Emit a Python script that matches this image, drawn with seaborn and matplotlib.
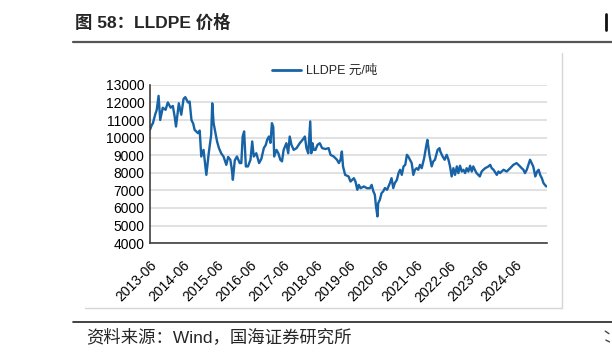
import pandas as pd
import matplotlib
matplotlib.use("Agg")
import matplotlib.pyplot as plt
import matplotlib.dates as mdates
from matplotlib.lines import Line2D
import seaborn as sns

# LLDPE price (元/吨)
dates = [
    "2013-06-01", "2013-06-20", "2013-07-04", "2013-07-28", "2013-08-15", "2013-09-04",
    "2013-09-22", "2013-10-20", "2013-11-20", "2013-12-15", "2014-01-15", "2014-02-08",
    "2014-02-28", "2014-03-15", "2014-04-15", "2014-05-12", "2014-06-06", "2014-06-25",
    "2014-07-25", "2014-08-12", "2014-09-01", "2014-09-20", "2014-10-06", "2014-11-12",
    "2014-12-01", "2014-12-18", "2015-01-12", "2015-02-12", "2015-03-10", "2015-04-06",
    "2015-04-18", "2015-05-03", "2015-05-25", "2015-06-10", "2015-07-01", "2015-07-25",
    "2015-08-20", "2015-09-20", "2015-10-10", "2015-11-03", "2015-11-18", "2015-12-01",
    "2015-12-22", "2016-01-15", "2016-02-15", "2016-03-03", "2016-03-18", "2016-04-03",
    "2016-04-22", "2016-05-15", "2016-06-12", "2016-07-01", "2016-07-18", "2016-08-15",
    "2016-09-15", "2016-10-10", "2016-11-06", "2016-11-28", "2016-12-12", "2017-01-01",
    "2017-01-18", "2017-02-03", "2017-02-18", "2017-02-28", "2017-03-25", "2017-04-15",
    "2017-05-06", "2017-05-25", "2017-06-12", "2017-07-12", "2017-08-01", "2017-08-18",
    "2017-09-06", "2017-10-01", "2017-11-01", "2017-12-06", "2018-01-06", "2018-02-01",
    "2018-02-18", "2018-03-10", "2018-04-01", "2018-04-12", "2018-04-25", "2018-05-10",
    "2018-05-28", "2018-06-20", "2018-07-15", "2018-08-10", "2018-09-15", "2018-10-20",
    "2018-11-10", "2018-12-15", "2019-01-20", "2019-02-10", "2019-02-28", "2019-03-15",
    "2019-03-28", "2019-04-20", "2019-05-28", "2019-06-18", "2019-07-25", "2019-08-12",
    "2019-09-01", "2019-09-18", "2019-10-06", "2019-11-12", "2019-12-18", "2020-01-18",
    "2020-02-06", "2020-02-25", "2020-03-12", "2020-03-25", "2020-04-10", "2020-04-18",
    "2020-05-06", "2020-05-25", "2020-06-12", "2020-07-01", "2020-07-25", "2020-08-25",
    "2020-09-12", "2020-10-01", "2020-10-18", "2020-11-10", "2020-11-28", "2020-12-15",
    "2021-01-03", "2021-01-22", "2021-02-10", "2021-02-28", "2021-03-15", "2021-04-03",
    "2021-04-22", "2021-05-10", "2021-05-28", "2021-06-15", "2021-07-03", "2021-07-22",
    "2021-08-10", "2021-09-06", "2021-09-28", "2021-10-12", "2021-11-03", "2021-11-28",
    "2021-12-15", "2022-01-03", "2022-02-01", "2022-02-22", "2022-03-03", "2022-03-28",
    "2022-04-20", "2022-05-12", "2022-06-01", "2022-06-18", "2022-07-06", "2022-07-25",
    "2022-08-12", "2022-09-01", "2022-09-18", "2022-10-06", "2022-10-25", "2022-11-12",
    "2022-12-01", "2022-12-18", "2023-01-06", "2023-01-25", "2023-02-12", "2023-03-01",
    "2023-03-18", "2023-04-06", "2023-05-12", "2023-06-01", "2023-06-20", "2023-07-10",
    "2023-08-15", "2023-09-03", "2023-09-20", "2023-10-10", "2023-11-15", "2023-12-03",
    "2023-12-20", "2024-01-28", "2024-03-03", "2024-04-10", "2024-05-15", "2024-06-20",
    "2024-07-28", "2024-08-15", "2024-09-03", "2024-09-20", "2024-10-10", "2024-11-15",
    "2024-12-03", "2024-12-20", "2025-01-12", "2025-02-01", "2025-02-18", "2025-03-06",
    "2025-03-25", "2025-04-12", "2025-05-12",
]
prices = [
    10440, 10700, 10820, 11300, 11580, 12375,
    11000, 11700, 11580, 12000, 11700, 11800,
    11200, 10630, 11950, 11300, 12200, 12300,
    12000, 12050, 11000, 10800, 10440, 10250,
    10400, 8925, 9300, 7880, 9100, 10150,
    11950, 10820, 10200, 9780, 9400, 9110,
    8925, 8450, 8900, 8740, 8260, 7600,
    8700, 8925, 8550, 8550, 10060, 10350,
    8360, 8360, 8740, 9780, 8925, 9110,
    8550, 8800, 9400, 9590, 9870, 10060,
    9700, 10820, 10600, 8925, 9300, 9110,
    8740, 8650, 9300, 9680, 9110, 10060,
    9590, 9300, 9400, 9680, 9870, 10060,
    9400, 9110, 10920, 9110, 9680, 9300,
    9300, 9590, 9680, 9400, 9350, 9400,
    9020, 8925, 8740, 8550, 8740, 9210,
    8360, 7880, 7790, 7500, 7690, 7500,
    7030, 7310, 7120, 7220, 7120, 7120,
    7310, 6940, 6750, 6080, 5515, 6270,
    6460, 6840, 6940, 7130, 7030, 7410,
    7690, 7130, 7410, 7600, 7980, 8170,
    7880, 8360, 8450, 9020, 8925, 8740,
    8550, 7880, 8170, 8260, 8170, 8450,
    8260, 8830, 9500, 9870, 9020, 8360,
    8640, 8740, 9300, 9400, 9210, 8930,
    8740, 9020, 8740, 8360, 7790, 8260,
    7880, 8360, 7980, 8400, 8070, 8170,
    7980, 8260, 8070, 8400, 8070, 8360,
    8170, 7980, 7790, 8070, 8170, 8260,
    8360, 8450, 8260, 8170, 7880, 8070,
    7980, 8170, 8070, 8260, 8450, 8550,
    8360, 8260, 8170, 7980, 8170, 8740,
    8550, 8360, 7790, 8070, 8170, 7880,
    7690, 7410, 7220,
]
tick_years = list(range(2013, 2025))
y_ticks = list(range(4000, 13001, 1000))

df = pd.DataFrame({"date": pd.to_datetime(dates), "price": prices})

sns.set_theme(style="white")
plt.rcParams["font.family"] = ["Liberation Sans", "Noto Sans CJK SC"]

line_color = "#1763A6"
axis_color = "#404040"

fig = plt.figure(figsize=(6.12, 3.58), dpi=100)
ax = fig.add_axes([0.245, 0.321, 0.649, 0.442])

sns.lineplot(data=df, x="date", y="price", ax=ax, color=line_color, linewidth=1.7)

ax.set_xlim(pd.Timestamp("2013-06-01"), pd.Timestamp("2025-05-22"))
ax.set_ylim(4000, 13000)
ax.set_yticks(y_ticks)
ax.set_xticks([pd.Timestamp(f"{y}-06-01") for y in tick_years])
ax.xaxis.set_major_formatter(mdates.DateFormatter("%Y-%m"))
ax.set_xlabel("")
ax.set_ylabel("")

ax.grid(axis="y", color="#d9d9d9", linewidth=1.1)
ax.set_axisbelow(True)
for side in ["top", "right"]:
    ax.spines[side].set_visible(False)
for side in ["left", "bottom"]:
    ax.spines[side].set_color(axis_color)
    ax.spines[side].set_linewidth(1.2)

ax.tick_params(axis="both", direction="in", length=4, width=1, color=axis_color,
               labelsize=10, labelcolor="black")
ax.tick_params(axis="y", pad=4)
ax.tick_params(axis="x", pad=11)
plt.setp(ax.get_xticklabels(), rotation=45, ha="right", rotation_mode="anchor")

handle = Line2D([], [], color=line_color, linewidth=2)
fig.legend([handle], ["LLDPE 元/吨"], loc="center", bbox_to_anchor=(0.53, 0.802),
           frameon=False, fontsize=9, handlelength=2.3, handletextpad=0.4)

# title and page decoration
fig.text(0.1225, 0.938, "图 58：LLDPE 价格", fontsize=12.5, fontweight="bold", va="center")
fig.add_artist(Line2D([0.119, 1.0], [0.883, 0.883], color="#555555", linewidth=1.6))
fig.add_artist(Line2D([0.139, 0.918], [0.14, 0.14], color="#d6d6d6", linewidth=1))
fig.add_artist(Line2D([0.918, 0.918], [0.14, 0.852], color="#d6d6d6", linewidth=1))
fig.add_artist(Line2D([0.119, 1.0], [0.101, 0.101], color="#222222", linewidth=1.2))
fig.text(0.141, 0.059, "资料来源：Wind，国海证券研究所", fontsize=12.5, va="center")
# clipped glyph edges from the neighbouring page column
fig.add_artist(Line2D([0.991, 0.991], [0.915, 0.96], color="#111111", linewidth=2))
fig.add_artist(Line2D([0.989, 0.995], [0.075, 0.068], color="#444444", linewidth=1))
fig.add_artist(Line2D([0.99, 0.996], [0.05, 0.045], color="#444444", linewidth=1))

fig.savefig("out.png", dpi=100)
